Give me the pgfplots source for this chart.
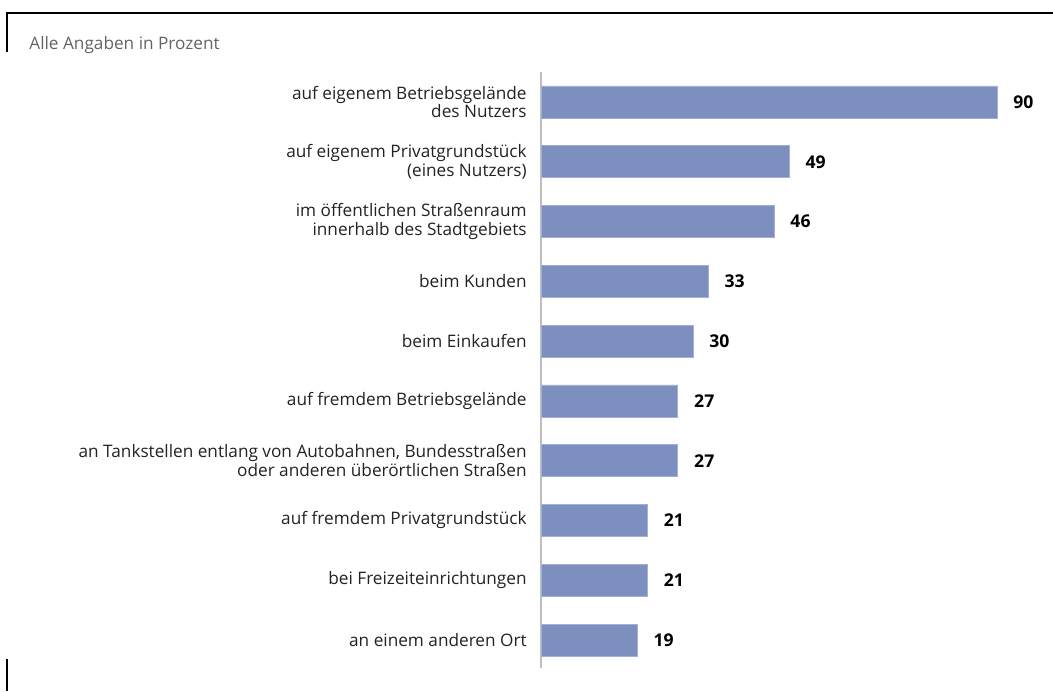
\documentclass[border=0pt]{standalone}
\usepackage{pgfplots}
\pgfplotsset{compat=1.18}
\usepackage{fontspec}
\setmainfont{Open Sans}
\definecolor{barblue}{RGB}{124,143,191}
\definecolor{baredge}{RGB}{160,176,214}
\definecolor{axgray}{RGB}{190,190,190}
\definecolor{titlegray}{RGB}{100,100,100}
\definecolor{labgray}{RGB}{35,35,35}
\begin{document}
\begin{tikzpicture}[x=0.5pt,y=-0.5pt]
\path[use as bounding box] (0,0) rectangle (1053,691);
\draw[line width=1pt, black] (7,12.5) -- (1053,12.5);
\draw[line width=1pt, black] (7,12) -- (7,52);
\draw[line width=1pt, black] (7,659) -- (7,691);
\node[anchor=base west, inner sep=0pt, text=titlegray, font=\fontsize{8.6pt}{9.2pt}\selectfont] at (29,49) {Alle Angaben in Prozent};
\begin{axis}[
  at={(270.5pt,-334pt)}, anchor=south west,
  scale only axis,
  width=228pt, height=298pt,
  xmin=0, xmax=90,
  ymin=-0.468, ymax=9.502,
  xbar, bar width=16pt,
  axis x line=none,
  axis y line=left,
  y axis line style={-, draw=axgray, line width=0.75pt},
  major tick length=0pt,
  /pgf/number format/assume math mode=true,
  ytick={0,1,2,3,4,5,6,7,8,9},
  yticklabels={
    {an einem anderen Ort},
    {bei Freizeiteinrichtungen},
    {auf fremdem Privatgrundstück},
    {an Tankstellen entlang von Autobahnen, Bundesstraßen\\oder anderen überörtlichen Straßen},
    {auf fremdem Betriebsgelände},
    {beim Einkaufen},
    {beim Kunden},
    {im öffentlichen Straßenraum\\innerhalb des Stadtgebiets},
    {auf eigenem Privatgrundstück\\(eines Nutzers)},
    {auf eigenem Betriebsgelände\\des Nutzers}},
  yticklabel style={align=right, inner sep=0pt, xshift=-7pt, text=labgray,
    font=\fontsize{8.6pt}{9.2pt}\selectfont},
  clip=false,
  nodes near coords,
  nodes near coords style={anchor=west, inner sep=0pt, xshift=8pt,
    font=\fontsize{8.8pt}{9.2pt}\selectfont\bfseries, text=black},
]
\addplot[fill=barblue, draw=baredge, line width=0.4pt] coordinates {
  (19,0) (21,1) (21,2) (27,3) (27,4) (30,5) (33,6) (46,7) (49,8) (90,9)
};
\end{axis}
\end{tikzpicture}
\end{document}
